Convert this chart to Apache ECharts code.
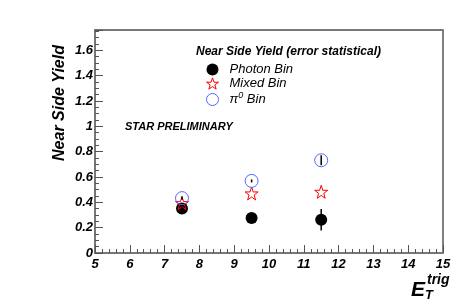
<!DOCTYPE html>
<html><head><meta charset="utf-8">
<script src="https://cdn.jsdelivr.net/npm/echarts@6/dist/echarts.min.js"></script>
<style>html,body{margin:0;padding:0;background:#fff}#c{width:457px;height:307px}</style>
</head><body><div id="c"></div>
<script>
const xValues = [7.5, 9.5, 11.5];
const photonY = [0.352, 0.276, 0.262];
const photonErr = [0.012, 0.008, 0.085];
const mixedY = [0.394, 0.470, 0.483];
const mixedErr = [0.01, 0.008, 0.01];
const pi0Y = [0.433, 0.569, 0.732];
const pi0Err = [0.012, 0.012, 0.04];
const seriesNames = ['Photon Bin', 'Mixed Bin', 'π0 Bin'];

const FONT = '"Liberation Sans", Arial, sans-serif';
const starPath = 'path://M50,0 L61.8,35.1 L98.1,34.5 L69.1,56.3 L79.4,90.5 L50,70 L20.6,90.5 L30.9,56.3 L1.9,34.5 L38.2,35.1 Z';

function pts(ys) { return xValues.map((x, i) => [x, ys[i]]); }
function errData(ys, es) { return xValues.map((x, i) => [x, ys[i] - es[i], ys[i] + es[i]]); }
function errSeries(ys, es, color) {
  return {
    type: 'custom', xAxisIndex: 0, yAxisIndex: 0, silent: true, z: 5,
    data: errData(ys, es),
    renderItem: function (params, api) {
      const lo = api.coord([api.value(0), api.value(1)]);
      const hi = api.coord([api.value(0), api.value(2)]);
      return { type: 'line', shape: { x1: lo[0], y1: lo[1], x2: hi[0], y2: hi[1] },
        style: { stroke: color, lineWidth: 1.5 } };
    }
  };
}

const chart = echarts.init(document.getElementById('c'));
chart.setOption({
  animation: false,
  backgroundColor: '#fff',
  grid: { left: 95, right: 14, top: 30, bottom: 54, show: true, borderColor: '#000', borderWidth: 1 },
  title: { text: 'Near Side Yield (error statistical)', left: 191, top: 41,
    textStyle: { fontFamily: FONT, fontSize: 12, fontStyle: 'italic', fontWeight: 'bold', color: '#000' } },
  legend: {
    orient: 'vertical', left: 201, top: 58, itemGap: 1, itemWidth: 12, itemHeight: 12,
    itemStyle: { borderWidth: 1 },
    data: seriesNames,
    formatter: function (n) { return n === 'π0 Bin' ? '{a|π}{s|0}{a| Bin}' : '{a|' + n + '}'; },
    textStyle: { fontFamily: FONT, fontSize: 13, fontStyle: 'italic', color: '#000', padding: [0, 0, 0, 6],
      rich: { a: { fontFamily: FONT, fontSize: 13, fontStyle: 'italic', color: '#000' },
              s: { fontFamily: FONT, fontSize: 9, fontStyle: 'italic', color: '#000', verticalAlign: 'top', padding: [0, 0, 8, 0] } } }
  },
  xAxis: [{
    type: 'value', min: 5, max: 15, interval: 1, position: 'bottom',
    axisLine: { show: true, lineStyle: { color: '#777', width: 2 } },
    axisTick: { show: true, inside: true, length: 8, lineStyle: { color: '#555' } },
    minorTick: { show: true, splitNumber: 5, length: 4, lineStyle: { color: '#555' } },
    splitLine: { show: false },
    axisLabel: { margin: 5, fontFamily: FONT, fontSize: 13, fontStyle: 'italic', fontWeight: 'bold', color: '#000' }
  }, {
    type: 'value', min: 5, max: 15, position: 'top',
    axisLine: { show: true, lineStyle: { color: '#777', width: 2 } },
    axisTick: { show: false }, axisLabel: { show: false }, splitLine: { show: false }
  }],
  yAxis: {
    type: 'value', min: 0, max: 1.76, interval: 0.2,
    axisLine: { show: true, lineStyle: { color: '#777', width: 2 } },
    axisTick: { show: true, inside: true, length: 8, lineStyle: { color: '#555' } },
    minorTick: { show: true, splitNumber: 4, length: 4, lineStyle: { color: '#555' } },
    splitLine: { show: false },
    axisLabel: { margin: 2, showMaxLabel: false, fontFamily: FONT, fontSize: 13, fontStyle: 'italic', fontWeight: 'bold', color: '#000' }
  },
  graphic: [
    { type: 'text', left: 125, top: 121, style: { text: 'STAR PRELIMINARY', font: 'italic bold 11px ' + FONT, fill: '#000' } },
    { type: 'text', x: 60, y: 103, rotation: Math.PI / 2,
      style: { text: 'Near Side Yield', font: 'italic bold 16px ' + FONT, fill: '#000', align: 'center', verticalAlign: 'middle' } },
    { type: 'text', left: 411, top: 280, style: { text: 'E', font: 'italic bold 21px ' + FONT, fill: '#000' } },
    { type: 'text', left: 427, top: 273, style: { text: 'trig', font: 'italic bold 14px ' + FONT, fill: '#000' } },
    { type: 'text', left: 425, top: 289, style: { text: 'T', font: 'italic bold 13px ' + FONT, fill: '#000' } }
  ],
  series: [
    errSeries(photonY, photonErr, '#000'),
    errSeries(pi0Y, pi0Err, '#000'),
    { name: 'Photon Bin', type: 'scatter', data: pts(photonY), symbol: 'circle', symbolSize: 12, z: 3,
      itemStyle: { color: '#000', opacity: 1 } },
    { name: 'Mixed Bin', type: 'scatter', data: pts(mixedY), symbol: starPath, symbolSize: 13, z: 4,
      itemStyle: { color: 'rgba(255,255,255,0)', borderColor: '#ff0000', borderWidth: 1, opacity: 1 } },
    { name: 'π0 Bin', type: 'scatter', data: pts(pi0Y), symbol: 'circle', symbolSize: 13, z: 4,
      itemStyle: { color: 'rgba(255,255,255,0)', borderColor: '#5566ff', borderWidth: 1, opacity: 1 } }
  ]
});
</script></body></html>
